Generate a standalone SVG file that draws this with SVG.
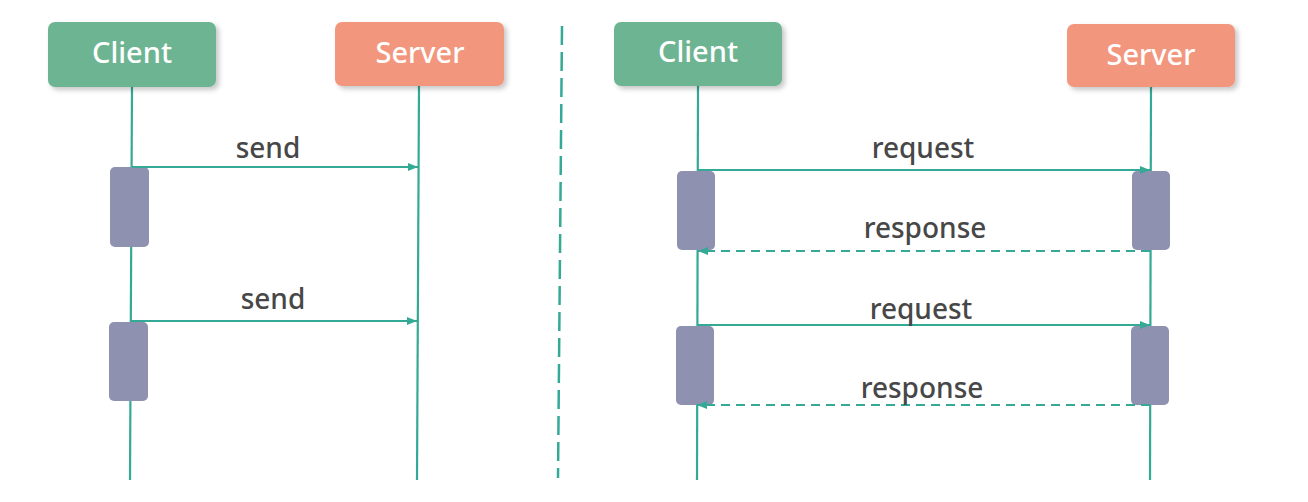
<svg xmlns="http://www.w3.org/2000/svg" width="1308" height="502" viewBox="0 0 1308 502">
<defs>
<filter id="sh" x="-10%" y="-10%" width="125%" height="135%">
<feDropShadow dx="3" dy="3" stdDeviation="2.5" flood-color="#000" flood-opacity="0.22"/>
</filter>
<marker id="arr" viewBox="0 0 10 10" refX="10" refY="5" markerWidth="11" markerHeight="10" markerUnits="userSpaceOnUse" orient="auto">
<path d="M0,1 L10,5 L0,9 Z" fill="#34a996"/>
</marker>
</defs>
<style>
.client{fill:#6db592}
.server{fill:#f2977e}
.act{fill:#8e92b0}
.title{font-family:"Noto Sans","Open Sans",sans-serif;font-size:29px;font-weight:500;fill:#ffffff;text-anchor:middle}
.lbl{font-family:"Noto Sans","Open Sans",sans-serif;font-size:28px;font-weight:500;fill:#474747;text-anchor:middle}
.life{stroke:#34a996;stroke-width:2.2;fill:none}
.msg{stroke:#34a996;stroke-width:2.2;fill:none;marker-end:url(#arr)}
.ret{stroke:#34a996;stroke-width:2.2;fill:none;stroke-dasharray:9 6;marker-end:url(#arr)}
.div{stroke:#34a996;stroke-width:2.5;fill:none;stroke-dasharray:19 7}
</style>
<g id="lifelines">
<path class="life" d="M132,87 L130,480"/>
<path class="life" d="M419,86 L417,480"/>
<path class="life" d="M698,86 L697,480"/>
<path class="life" d="M1151,87 L1150,480"/>
<path class="div" d="M562,26 L558,478"/>
</g>
<g id="left-client">
<rect class="client" x="48" y="22" width="168" height="65" rx="7" filter="url(#sh)"/>
<text class="title" x="132" y="63">Client</text>
</g>
<g id="left-server">
<rect class="server" x="335" y="22" width="169" height="64" rx="7" filter="url(#sh)"/>
<text class="title" x="420" y="63">Server</text>
</g>
<g id="right-client">
<rect class="client" x="614" y="22" width="168" height="64" rx="7" filter="url(#sh)"/>
<text class="title" x="698" y="62">Client</text>
</g>
<g id="right-server">
<rect class="server" x="1067" y="24" width="168" height="63" rx="7" filter="url(#sh)"/>
<text class="title" x="1151" y="65">Server</text>
</g>
<g id="activations">
<rect class="act" x="110" y="167" width="39" height="80" rx="5"/>
<rect class="act" x="109" y="322" width="39" height="79" rx="5"/>
<rect class="act" x="677" y="171" width="38" height="79" rx="5"/>
<rect class="act" x="1132" y="171" width="38" height="79" rx="5"/>
<rect class="act" x="676" y="326" width="38" height="79" rx="5"/>
<rect class="act" x="1131" y="326" width="38" height="79" rx="5"/>
</g>
<g id="connectors">
<path class="msg" d="M132,167 L418,167"/>
<path class="msg" d="M131,321 L417,321"/>
<path class="msg" d="M698,170 L1150,170"/>
<path class="ret" d="M1150,251 L698,251"/>
<path class="msg" d="M697,325 L1150,325"/>
<path class="ret" d="M1150,405 L697,405"/>
</g>
<g id="labels">
<text class="lbl" x="268" y="158">send</text>
<text class="lbl" x="273" y="309">send</text>
<text class="lbl" x="923" y="158">request</text>
<text class="lbl" x="925" y="238">response</text>
<text class="lbl" x="921" y="319">request</text>
<text class="lbl" x="922" y="398">response</text>
</g>
</svg>
